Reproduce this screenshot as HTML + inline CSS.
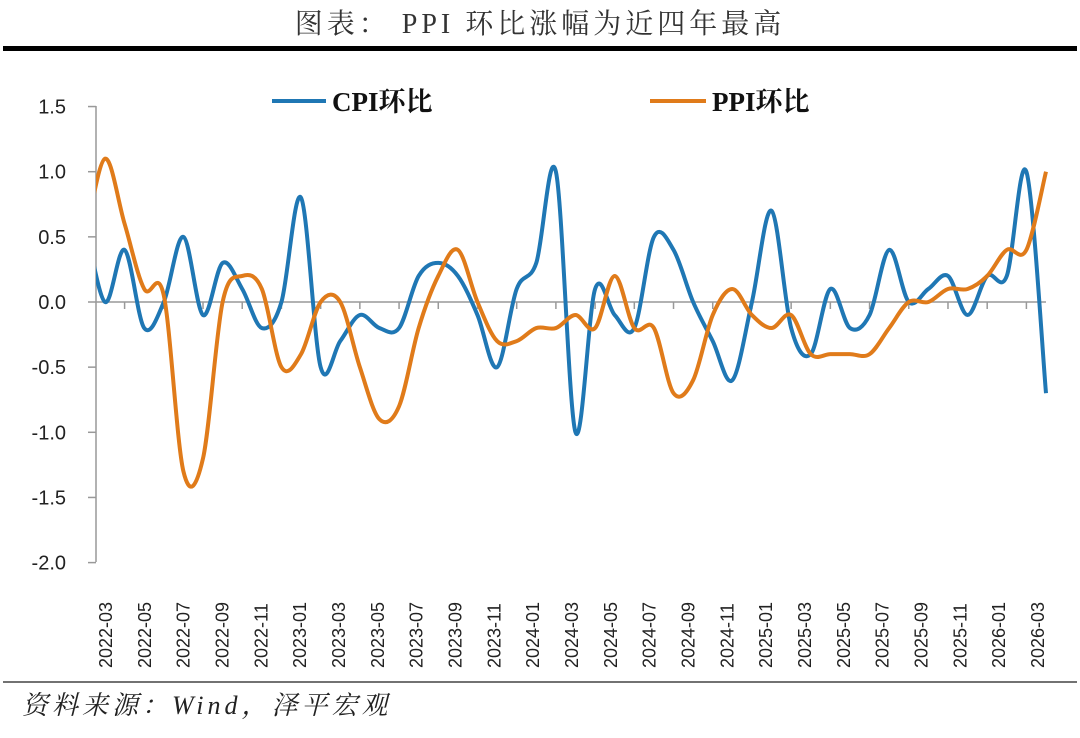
<!DOCTYPE html>
<html><head><meta charset="utf-8">
<style>
html,body{margin:0;padding:0;background:#fff;}
body{width:1080px;height:733px;overflow:hidden;position:relative;font-family:"Liberation Sans","Noto Sans CJK SC",sans-serif;}
</style></head>
<body>
<svg id="chart" width="1080" height="733" viewBox="0 0 1080 733" xmlns="http://www.w3.org/2000/svg">
<text x="540" y="33" text-anchor="middle" font-family="'Liberation Serif','Noto Serif CJK SC',serif" font-size="28" letter-spacing="4" fill="#333">图表： PPI 环比涨幅为近四年最高</text>
<rect x="3" y="46" width="1074" height="5" fill="#000"/>
<line x1="3" y1="682" x2="1077" y2="682" stroke="#444" stroke-width="1.5"/>
<text x="22" y="714" font-family="'Liberation Serif','Noto Serif CJK SC',serif" font-style="italic" font-size="26" letter-spacing="4" fill="#222">资料来源：Wind，泽平宏观</text>
<g id="legend">
<line x1="272" y1="101" x2="326" y2="101" stroke="#1f77b4" stroke-width="4"/>
<text x="332" y="111" font-family="'Liberation Serif','Noto Serif CJK SC',serif" font-weight="bold" font-size="27" fill="#111">CPI环比</text>
<line x1="650" y1="101" x2="706" y2="101" stroke="#e07b1a" stroke-width="4"/>
<text x="712" y="111" font-family="'Liberation Serif','Noto Serif CJK SC',serif" font-weight="bold" font-size="27" fill="#111">PPI环比</text>
</g>
<g id="axes"></g>
<g id="series"></g>
</svg>
<script>
// months from 2022-02 (clipped) to 2026-03
const months = [];
(function(){let y=2022,m=2;for(let i=0;i<50;i++){months.push(y+'-'+String(m).padStart(2,'0'));m++;if(m>12){m=1;y++;}}})();
const cpiValues = [0.6,0.0,0.4,-0.2,0.0,0.5,-0.1,0.3,0.1,-0.2,0.0,0.8,-0.5,-0.3,-0.1,-0.2,-0.2,0.2,0.3,0.2,-0.1,-0.5,0.1,0.3,1.0,-1.0,0.1,-0.1,-0.2,0.5,0.4,0.0,-0.3,-0.6,0.0,0.7,-0.2,-0.4,0.1,-0.2,-0.1,0.4,0.0,0.1,0.2,-0.1,0.2,0.2,1.0,-0.7];
const ppiValues = [0.5,1.1,0.6,0.1,0.05,-1.3,-1.2,0.0,0.2,0.1,-0.5,-0.4,0.0,0.0,-0.5,-0.9,-0.8,-0.2,0.2,0.4,0.0,-0.3,-0.3,-0.2,-0.2,-0.1,-0.2,0.2,-0.2,-0.2,-0.7,-0.6,-0.1,0.1,-0.1,-0.2,-0.1,-0.4,-0.4,-0.4,-0.4,-0.2,0.0,0.0,0.1,0.1,0.2,0.4,0.4,1.0];
const yTicks = [1.5,1.0,0.5,0.0,-0.5,-1.0,-1.5,-2.0];
const yTickLabels = ["1.5","1.0","0.5","0.0","-0.5","-1.0","-1.5","-2.0"];

const NS="http://www.w3.org/2000/svg";
const X0=96, X1=1046, YT=106, YB=562;
const step=(X1-105)/48;
function xPos(i){return 105+(i-1)*step;}
function yPos(v){return 302-v*130.3;}
function mk(tag,attrs,parent){const e=document.createElementNS(NS,tag);for(const k in attrs)e.setAttribute(k,attrs[k]);parent.appendChild(e);return e;}
const axes=document.getElementById('axes');
const series=document.getElementById('series');

let ya=mk('line',{x1:X0,y1:YT,x2:X0,y2:YB,stroke:'#999','stroke-width':1.5},axes);


yTicks.forEach((v,k)=>{
  const y=yPos(v);
  let t=mk('line',{x1:X0-8,y1:y,x2:X0,y2:y,stroke:'#999','stroke-width':1.5},axes);
  
  
  let l=mk('text',{x:66,y:y+7,'text-anchor':'end','font-size':20,fill:'#222'},axes);
  l.textContent=yTickLabels[k];
  
  
});
let xa=mk('line',{x1:X0,y1:yPos(0),x2:X1,y2:yPos(0),stroke:'#999','stroke-width':1.5},axes);


const lblStep=(1037-105)/48;
for(let i=1;i<months.length;i+=2){
  const x=xPos(i);
  if(i>1){let t=mk('line',{x1:x-step,y1:yPos(0),x2:x-step,y2:yPos(0)+7,stroke:'#999','stroke-width':1.5},axes);
  
  }
  const lx=105+(i-1)*lblStep+7, ly=668;
  let l=mk('text',{x:lx,y:ly,'font-size':18,fill:'#222',transform:`rotate(-90 ${lx} ${ly})`},axes);
  l.textContent=months[i];
  
  
}
const clip=mk('clipPath',{id:'plotclip'},series);
mk('rect',{x:X0,y:0,width:X1-X0+5,height:733},clip);
function smooth(vals){
  const p=vals.map((v,i)=>[xPos(i),yPos(v)]);
  let d=`M${p[0][0]},${p[0][1]}`;
  for(let i=0;i<p.length-1;i++){
    const p0=p[i-1]||p[i],p1=p[i],p2=p[i+1],p3=p[i+2]||p[i+1];
    const c1=[p1[0]+(p2[0]-p0[0])/6,p1[1]+(p2[1]-p0[1])/6];
    const c2=[p2[0]-(p3[0]-p1[0])/6,p2[1]-(p3[1]-p1[1])/6];
    d+=` C${c1[0]},${c1[1]} ${c2[0]},${c2[1]} ${p2[0]},${p2[1]}`;
  }
  return d;
}
let cl=mk('path',{d:smooth(cpiValues),fill:'none',stroke:'#1f77b4','stroke-width':4,'stroke-linejoin':'round','clip-path':'url(#plotclip)'},series);


let pl=mk('path',{d:smooth(ppiValues),fill:'none',stroke:'#e07b1a','stroke-width':4,'stroke-linejoin':'round','clip-path':'url(#plotclip)'},series);


</script>
</body></html>
